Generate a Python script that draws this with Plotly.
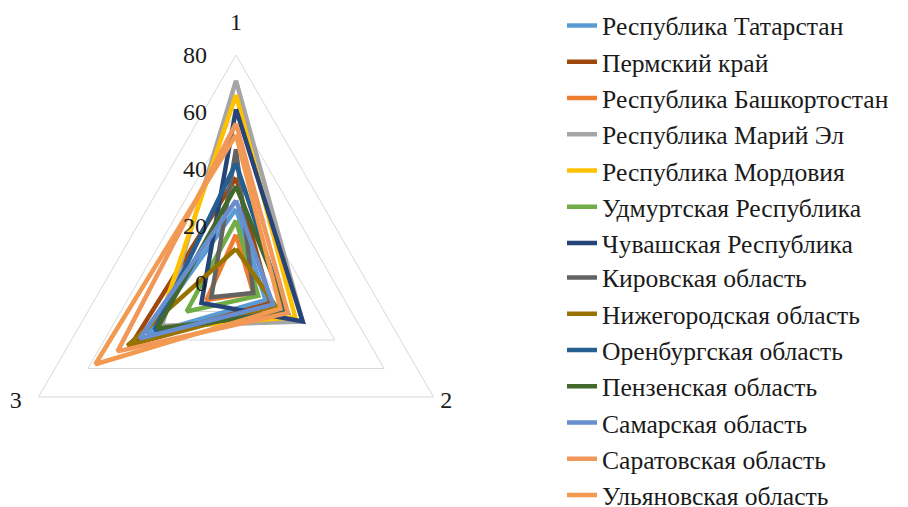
import plotly.graph_objects as go

categories = ["1", "2", "3"]
regions = [
    "Республика Татарстан", "Пермский край", "Республика Башкортостан",
    "Республика Марий Эл", "Республика Мордовия", "Удмуртская Республика",
    "Чувашская Республика", "Кировская область", "Нижегородская область",
    "Оренбургская область", "Пензенская область", "Самарская область",
    "Саратовская область", "Ульяновская область",
]
axis1 = [26, 37, 17, 71, 66, 22, 61, 47, 12, 42, 34, 29, 56, 52]
axis2 = [12, 14, 7, 27, 24, 9, 27, 7, 16, 20, 21, 15, 21, 18]
axis3 = [36, 42, 12, 30, 32, 20, 14, 10, 44, 33, 32, 39, 48, 57]
colors = ["#5B9BD5", "#9E480E", "#ED7D31", "#A5A5A5", "#FFC000", "#70AD47",
          "#264478", "#636363", "#997300", "#255E91", "#43682B", "#698ED0",
          "#F1975A", "#F39A52"]
radial_ticks = [0, 20, 40, 60, 80]
R_MAX = 80

FONT = "Liberation Serif, Times New Roman, serif"
TXT = "#1a1a1a"
BIG = "<span style='font-size:24px'>{}</span>"

fig = go.Figure()
for i, name in enumerate(regions):
    r = [axis1[i], axis2[i], axis3[i]]
    fig.add_trace(go.Scatterpolar(
        r=r + [r[0]], theta=categories + [categories[0]],
        mode="lines", name=name, legendgroup=name,
        legend="legend" if i < 7 else "legend2",
        line=dict(color=colors[i], width=4.5),
    ))

# category label "1" above the top corner
fig.add_trace(go.Scatterpolar(
    r=[R_MAX], theta=[categories[0]], mode="text",
    text=[BIG.format(categories[0]) + "<br>\u00a0"],
    textposition="top center", showlegend=False, hoverinfo="skip",
    textfont=dict(family=FONT, size=16, color=TXT), cliponaxis=False,
))
# category labels "2" and "3" beside (slightly below) the lower corners
fig.add_trace(go.Scatterpolar(
    r=[R_MAX, R_MAX], theta=categories[1:], mode="text",
    text=["\u00a0<br>" + BIG.format("\u2009\u200a" + categories[1]),
          "\u00a0<br>" + BIG.format(categories[2] + "\u2002\u2009")],
    textposition=["middle right", "middle left"],
    showlegend=False, hoverinfo="skip",
    textfont=dict(family=FONT, size=12, color=TXT), cliponaxis=False,
))

# page body has an 8px margin: figure coordinates = screen - 8
W, H = 900, 560
cx, cy, R = 228, 275, 228
fig.update_layout(
    width=W, height=H,
    margin=dict(l=0, r=0, t=0, b=0, autoexpand=False),
    paper_bgcolor="white", plot_bgcolor="white",
    font=dict(family=FONT, size=24, color=TXT),
    polar=dict(
        domain=dict(x=[(cx - R) / W, (cx + R) / W],
                    y=[(H - cy - R) / H, (H - cy + R) / H]),
        bgcolor="white",
        gridshape="linear",
        radialaxis=dict(range=[0, R_MAX], tickvals=radial_ticks, angle=90,
                        tickangle=90, side="counterclockwise",
                        ticks="outside", ticklen=20,
                        tickcolor="rgba(0,0,0,0)",
                        showline=False, gridcolor="#D9D9D9", gridwidth=1,
                        tickfont=dict(family=FONT, size=24, color=TXT)),
        angularaxis=dict(type="category", categoryorder="array",
                         categoryarray=categories, rotation=90,
                         direction="clockwise", showgrid=False,
                         showline=True, linecolor="#D9D9D9", linewidth=1,
                         ticks="", showticklabels=False),
    ),
    legend=dict(x=554 / W, y=1.0102, xanchor="left", yanchor="top",
                font=dict(family=FONT, size=25.6, color=TXT),
                tracegroupgap=0, bgcolor="rgba(0,0,0,0)"),
    legend2=dict(x=554 / W, y=0.5602, xanchor="left", yanchor="top",
                 font=dict(family=FONT, size=25.6, color=TXT),
                 tracegroupgap=0, bgcolor="rgba(0,0,0,0)"),
    showlegend=True,
)

fig.write_html("out.html")
